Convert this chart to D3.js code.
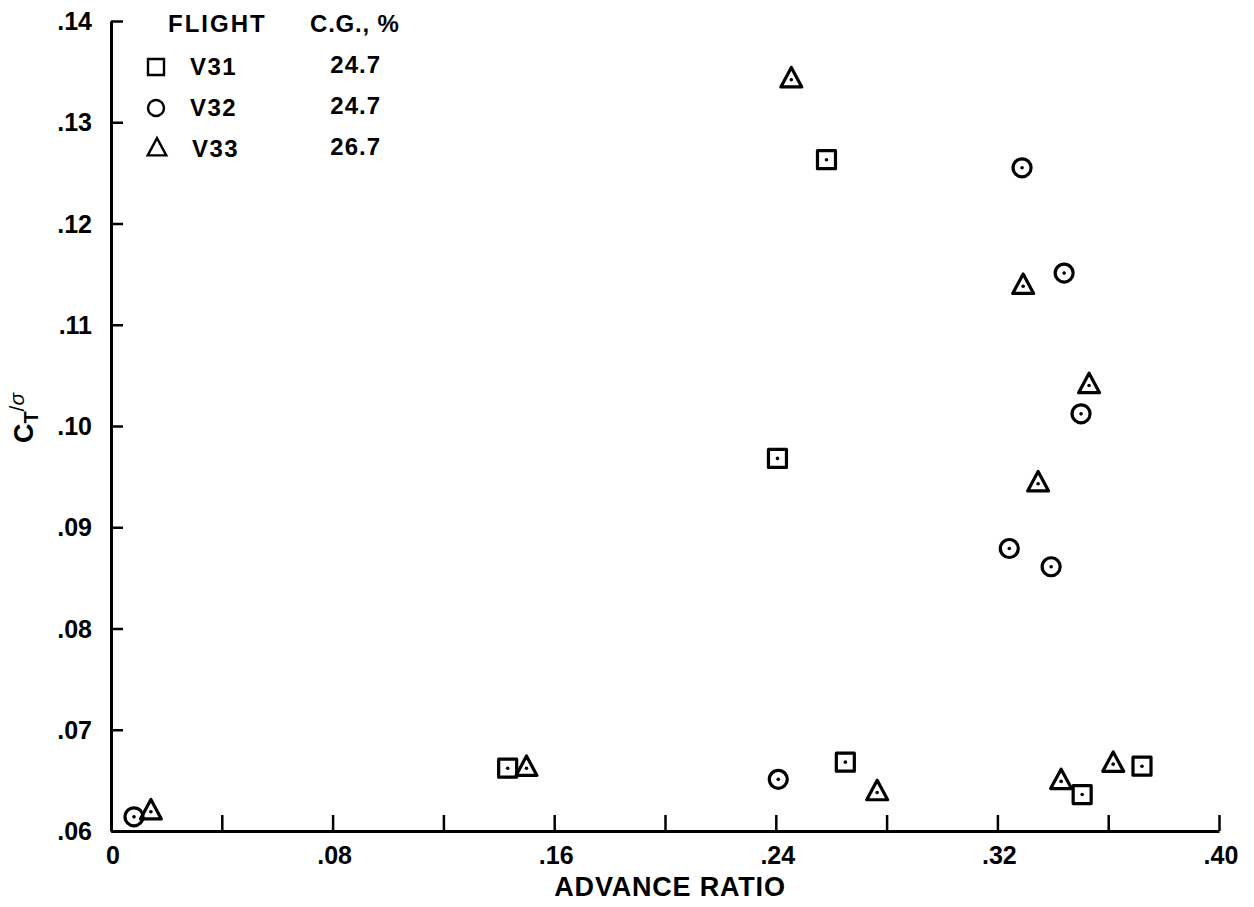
<!DOCTYPE html>
<html>
<head>
<meta charset="utf-8">
<script src="https://cdn.jsdelivr.net/npm/d3@7"></script>
<style>
    body { margin: 0; background: #fff; }
    text { font-family: 'Liberation Sans', Arial, sans-serif; font-weight: bold; fill: #000; }
</style>
</head>
<body>
<div id="chart"></div>
<script>
const width = 1254;
const height = 907;

// flight V31 (squares)
const v31Advance = [0.1432, 0.2406, 0.2583, 0.2651, 0.3506, 0.3722];
const v31Ct = [0.0662, 0.0968, 0.1263, 0.0668, 0.0636, 0.0664];
// flight V32 (circles)
const v32Advance = [0.0083, 0.2409, 0.3243, 0.3289, 0.3394, 0.3441, 0.3502];
const v32Ct = [0.0614, 0.0651, 0.0879, 0.1255, 0.0861, 0.1151, 0.1012];
// flight V33 (triangles)
const v33Advance = [0.0144, 0.1500, 0.2456, 0.2766, 0.3293, 0.3347, 0.3430, 0.3531, 0.3618];
const v33Ct = [0.0619, 0.0662, 0.1342, 0.0638, 0.1138, 0.0943, 0.0649, 0.1040, 0.0666];

const xTicks = [0, 0.04, 0.08, 0.12, 0.16, 0.20, 0.24, 0.28, 0.32, 0.36, 0.40];
const xLabels = [0, 0.08, 0.16, 0.24, 0.32, 0.40];
const yTicks = [0.06, 0.07, 0.08, 0.09, 0.10, 0.11, 0.12, 0.13, 0.14];

const legendFlights = ['V31', 'V32', 'V33'];
const legendCg = ['24.7', '24.7', '26.7'];
const legendShapes = ['square', 'circle', 'triangle'];

const svg = d3.select('#chart')
    .append('svg')
    .attr('width', width)
    .attr('height', height);

const x = d3.scaleLinear().domain([0, 0.40]).range([111, 1219]);
const y = d3.scaleLinear().domain([0.06, 0.14]).range([831, 21]);

const fmt = v => v === 0 ? '0' : d3.format('.2f')(v).replace(/^0/, '');

// x axis, ticks point up into the plot
const xAxis = svg.append('g')
    .attr('transform', `translate(0, ${y(0.06)})`)
    .call(d3.axisBottom(x).tickValues(xTicks).tickSizeInner(-16).tickSizeOuter(0).tickFormat(''));
xAxis.select('.domain').attr('stroke-width', 3);
xAxis.selectAll('.tick line').attr('stroke-width', 2.5);

svg.append('g')
    .selectAll('text')
    .data(xLabels)
    .enter()
    .append('text')
    .attr('x', d => x(d) + 2)
    .attr('y', 864)
    .attr('text-anchor', 'middle')
    .attr('font-size', 25)
    .text(fmt);

// y axis, ticks point right
const yAxis = svg.append('g')
    .attr('transform', `translate(${x(0)}, 0)`)
    .call(d3.axisLeft(y).tickValues(yTicks).tickSizeInner(-12).tickSizeOuter(0).tickFormat(''));
yAxis.select('.domain').attr('stroke-width', 3);
yAxis.selectAll('.tick line').attr('stroke-width', 2.5);

svg.append('g')
    .selectAll('text')
    .data(yTicks)
    .enter()
    .append('text')
    .attr('x', 92)
    .attr('y', d => y(d) + 9)
    .attr('text-anchor', 'end')
    .attr('font-size', 25)
    .text(fmt);

svg.append('text')
    .attr('x', 670)
    .attr('y', 896)
    .attr('text-anchor', 'middle')
    .attr('font-size', 27)
    .attr('letter-spacing', 0.8)
    .text('ADVANCE RATIO');

const yTitle = svg.append('text')
    .attr('transform', 'translate(33, 418) rotate(-90)')
    .attr('text-anchor', 'middle')
    .attr('font-size', 27);
yTitle.append('tspan').text('C');
yTitle.append('tspan').attr('font-size', 20).attr('dy', 5).text('T');
yTitle.append('tspan').attr('font-size', 21).attr('font-weight', 'normal').attr('dy', -14).text('/');
yTitle.append('tspan').attr('font-size', 21).attr('font-weight', 'normal').attr('font-style', 'italic').text('σ');

// marker shapes
function shapePath(shape, s) {
    if (shape === 'square') {
        return `M${-s / 2},${-s / 2}h${s}v${s}h${-s}Z`;
    }
    if (shape === 'circle') {
        const r = s / 2;
        return `M${r},0A${r},${r} 0 1,1 ${-r},0A${r},${r} 0 1,1 ${r},0Z`;
    }
    const hw = s * 0.58;
    return `M0,${-s * 0.68}L${hw},${s * 0.4}L${-hw},${s * 0.4}Z`;
}

const series = [
    { shape: 'square', xs: v31Advance, ys: v31Ct },
    { shape: 'circle', xs: v32Advance, ys: v32Ct },
    { shape: 'triangle', xs: v33Advance, ys: v33Ct }
];

series.forEach(s => {
    const pts = s.xs.map((v, i) => [v, s.ys[i]]);
    const g = svg.append('g')
        .selectAll('g')
        .data(pts)
        .enter()
        .append('g')
        .attr('transform', d => `translate(${x(d[0])}, ${y(d[1])})`);
    g.append('path')
        .attr('d', shapePath(s.shape, 18))
        .attr('fill', 'none')
        .attr('stroke', '#000')
        .attr('stroke-width', 3.2)
        .attr('stroke-linejoin', 'round');
    g.append('circle')
        .attr('r', 1.8)
        .attr('fill', '#000');
});

// legend
const legend = svg.append('g');
legend.append('text')
    .attr('x', 168).attr('y', 32)
    .attr('font-size', 24).attr('letter-spacing', 2)
    .text('FLIGHT');
legend.append('text')
    .attr('x', 310).attr('y', 32)
    .attr('font-size', 24).attr('letter-spacing', 0.8)
    .text('C.G., %');

legendFlights.forEach((f, i) => {
    const rowY = 75 + i * 41;
    legend.append('path')
        .attr('transform', `translate(${156 + (i === 2 ? 1 : 0)}, ${rowY - 8})`)
        .attr('d', shapePath(legendShapes[i], 16))
        .attr('fill', 'none')
        .attr('stroke', '#000')
        .attr('stroke-width', 2.4);
    legend.append('text')
        .attr('x', 190 + (i === 2 ? 2 : 0)).attr('y', rowY)
        .attr('font-size', 24).attr('letter-spacing', 1.5)
        .text(f);
    legend.append('text')
        .attr('x', 381).attr('y', rowY - 2)
        .attr('text-anchor', 'end')
        .attr('font-size', 24).attr('letter-spacing', 1)
        .text(legendCg[i]);
});
</script>
</body>
</html>
